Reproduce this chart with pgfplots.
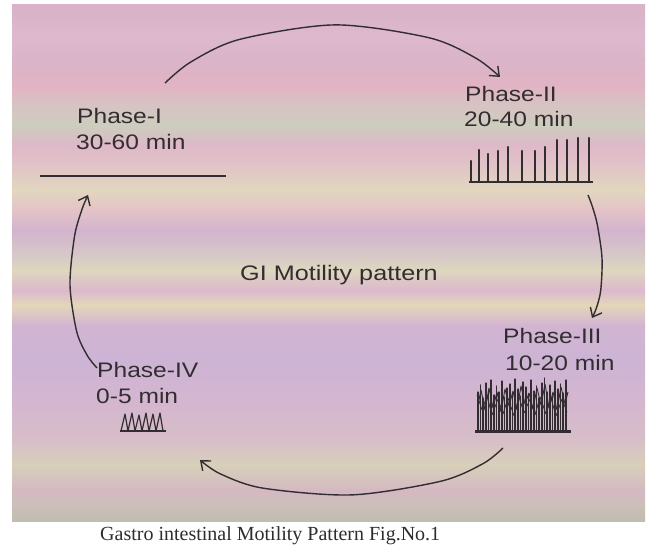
\documentclass[border=0pt]{standalone}
\usepackage{pgfplots}
\pgfplotsset{compat=1.18}
\usepackage{fontspec}
\setmainfont{Liberation Sans}
\newfontfamily\capfont{Liberation Serif}
\usetikzlibrary{arrows.meta}
\definecolor{b0}{RGB}{215,178,200}
\definecolor{b1}{RGB}{222,185,205}
\definecolor{b2}{RGB}{218,180,200}
\definecolor{b3}{RGB}{225,180,195}
\definecolor{b4}{RGB}{215,195,195}
\definecolor{b5}{RGB}{205,205,190}
\definecolor{b6}{RGB}{222,185,200}
\definecolor{b7}{RGB}{225,195,200}
\definecolor{b8}{RGB}{225,215,190}
\definecolor{b9}{RGB}{228,195,200}
\definecolor{b10}{RGB}{210,180,205}
\definecolor{b11}{RGB}{215,200,200}
\definecolor{b12}{RGB}{222,215,190}
\definecolor{b13}{RGB}{220,185,205}
\definecolor{b14}{RGB}{228,215,185}
\definecolor{b15}{RGB}{210,180,210}
\definecolor{b16}{RGB}{205,180,212}
\definecolor{b17}{RGB}{212,182,208}
\definecolor{b18}{RGB}{215,190,200}
\definecolor{b19}{RGB}{215,208,185}
\definecolor{b20}{RGB}{212,185,195}
\definecolor{b21}{RGB}{205,190,185}
\definecolor{b22}{RGB}{190,190,175}
\definecolor{ink}{RGB}{50,45,48}
\begin{document}
\begin{tikzpicture}
\begin{axis}[x=1bp, y=1bp, y dir=reverse, xmin=0, xmax=647, ymin=0, ymax=548,
  hide axis, clip=false, scale only axis]
% page and panel background
\fill[white] (0,0) rectangle (647,548);
\shade[top color=b0, bottom color=b1] (12,5) rectangle (645,35.5);
\shade[top color=b1, bottom color=b2] (12,35) rectangle (645,60.5);
\shade[top color=b2, bottom color=b3] (12,60) rectangle (645,85.5);
\shade[top color=b3, bottom color=b4] (12,85) rectangle (645,105.5);
\shade[top color=b4, bottom color=b5] (12,105) rectangle (645,125.5);
\shade[top color=b5, bottom color=b6] (12,125) rectangle (645,145.5);
\shade[top color=b6, bottom color=b7] (12,145) rectangle (645,165.5);
\shade[top color=b7, bottom color=b8] (12,165) rectangle (645,190.5);
\shade[top color=b8, bottom color=b9] (12,190) rectangle (645,210.5);
\shade[top color=b9, bottom color=b10] (12,210) rectangle (645,230.5);
\shade[top color=b10, bottom color=b11] (12,230) rectangle (645,255.5);
\shade[top color=b11, bottom color=b12] (12,255) rectangle (645,270.5);
\shade[top color=b12, bottom color=b13] (12,270) rectangle (645,290.5);
\shade[top color=b13, bottom color=b14] (12,290) rectangle (645,305.5);
\shade[top color=b14, bottom color=b15] (12,305) rectangle (645,325.5);
\shade[top color=b15, bottom color=b16] (12,325) rectangle (645,360.5);
\shade[top color=b16, bottom color=b17] (12,360) rectangle (645,400.5);
\shade[top color=b17, bottom color=b18] (12,400) rectangle (645,440.5);
\shade[top color=b18, bottom color=b19] (12,440) rectangle (645,465.5);
\shade[top color=b19, bottom color=b20] (12,465) rectangle (645,490.5);
\shade[top color=b20, bottom color=b21] (12,490) rectangle (645,505.5);
\shade[top color=b21, bottom color=b22] (12,505) rectangle (645,521);

% arrows of the cycle
\addplot[smooth, no marks, draw=ink, line width=1.4bp, -{Straight Barb[length=8bp,width=13bp]}]
  coordinates {(165,83) (190.8,62.0) (239.4,39.45) (335.1,24.9) (429.5,37.86) (476.1,58.3) (500,77)};
\addplot[smooth, no marks, draw=ink, line width=1.4bp, -{Straight Barb[length=8bp,width=13bp]}]
  coordinates {(588,195) (592.2,206.1) (597.3,224.6) (602.0,258.0) (600.7,290.6) (596.4,308.0) (592,318)};
\addplot[smooth, no marks, draw=ink, line width=1.4bp, -{Straight Barb[length=8bp,width=13bp]}]
  coordinates {(503,448) (483.1,463.6) (440.9,481.2) (351.9,494.9) (262.7,488.1) (220.2,473.8) (200,460)};
\addplot[smooth, no marks, draw=ink, line width=1.4bp, -{Straight Barb[length=8bp,width=13bp]}]
  coordinates {(97,368) (87.1,355.2) (76.7,331.6) (70.0,284.9) (74.5,236.5) (81.7,210.2) (88,195)};

% Phase I: flat line
\addplot[no marks, draw=ink, line width=1.4bp] coordinates {(40,176) (226,176)};

% Phase II: regular spikes
\addplot[no marks, draw=ink, line width=2.2bp, line join=round] coordinates {
 (469,182) (471,182) (471,161) (471,182) (478.7,182) (478.7,150) (478.7,182)
 (487.7,182) (487.7,154) (487.7,182) (497.7,182) (497.7,151) (497.7,182)
 (508,182) (508,147) (508,182) (522.3,182) (522.3,151) (522.3,182)
 (534.7,182) (534.7,151) (534.7,182) (545.3,182) (545.3,147) (545.3,182)
 (557,182) (557,140) (557,182) (567.3,182) (567.3,140) (567.3,182)
 (578.3,182) (578.3,138) (578.3,182) (588.7,182) (588.7,138) (588.7,182) (593,182)};

% Phase III: dense irregular spikes
\addplot[no marks, draw=ink, line width=1.1bp, line join=round] coordinates {
 (475,432) (478,432) (478,392) (478,432) (480.5,432) (480.5,385) (480.5,432)
 (483,432) (483,398) (483,432) (486,432) (486,383) (486,432)
 (488.5,432) (488.5,390) (488.5,432) (491,432) (491,380) (491,432)
 (494,432) (494,395) (494,432) (496.5,432) (496.5,386) (496.5,432)
 (499,432) (499,392) (499,432) (502,432) (502,381) (502,432)
 (504.5,432) (504.5,397) (504.5,432) (507,432) (507,388) (507,432)
 (510,432) (510,384) (510,432) (512.5,432) (512.5,393) (512.5,432)
 (515,432) (515,379) (515,432) (518,432) (518,389) (518,432)
 (520.5,432) (520.5,396) (520.5,432) (523,432) (523,382) (523,432)
 (526,432) (526,387) (526,432) (528.5,432) (528.5,394) (528.5,432)
 (531,432) (531,380) (531,432) (534,432) (534,391) (534,432)
 (536.5,432) (536.5,386) (536.5,432) (539,432) (539,398) (539,432)
 (542,432) (542,383) (542,432) (544.5,432) (544.5,378) (544.5,432)
 (547,432) (547,392) (547,432) (550,432) (550,385) (550,432)
 (552.5,432) (552.5,396) (552.5,432) (555,432) (555,381) (555,432)
 (558,432) (558,389) (558,432) (560.5,432) (560.5,384) (560.5,432)
 (563,432) (563,393) (563,432) (566,432) (566,380) (566,432) (571,432)};
\addplot[no marks, draw=ink, line width=0.9bp, line join=round] coordinates {
 (478,405) (481,390) (485,410) (489,388) (493,408) (497,392) (501,412) (505,389)
 (509,406) (513,391) (517,410) (521,386) (525,404) (529,393) (533,409) (537,388)
 (541,405) (545,384) (549,408) (553,392) (557,410) (561,387) (565,404) (568,392)};
\addplot[no marks, draw=ink, line width=0.8bp, line join=round] coordinates {
 (477,395) (482,410) (487,396) (492,415) (498,399) (503,414) (508,398) (514,416)
 (519,397) (524,413) (530,399) (535,415) (540,397) (546,414) (551,398) (556,416)
 (562,399) (567,412)};
\addplot[no marks, draw=ink, line width=2.2bp] coordinates {(475,431) (571,431)};

% Phase IV: sawtooth
\addplot[no marks, draw=ink, line width=1.2bp, line join=round] coordinates {
 (121,431) (125,414) (128,431) (132,413) (135,431) (139,415) (142,431) (146,413)
 (149,431) (153,414) (156,431) (160,413) (163,431)};
\addplot[no marks, draw=ink, line width=1.6bp] coordinates {(120,431) (166,431)};

% labels
\node[anchor=base west, inner sep=0, xscale=1.17, text=ink, font=\fontsize{21bp}{25bp}\selectfont] at (77,124) {Phase-I};
\node[anchor=base west, inner sep=0, xscale=1.17, text=ink, font=\fontsize{21bp}{25bp}\selectfont] at (76,150) {30-60 min};
\node[anchor=base west, inner sep=0, xscale=1.17, text=ink, font=\fontsize{21bp}{25bp}\selectfont] at (465,102) {Phase-II};
\node[anchor=base west, inner sep=0, xscale=1.17, text=ink, font=\fontsize{21bp}{25bp}\selectfont] at (464,127) {20-40 min};
\node[anchor=base west, inner sep=0, xscale=1.17, text=ink, font=\fontsize{21bp}{25bp}\selectfont] at (503,343) {Phase-III};
\node[anchor=base west, inner sep=0, xscale=1.17, text=ink, font=\fontsize{21bp}{25bp}\selectfont] at (505,370) {10-20 min};
\node[anchor=base west, inner sep=0, xscale=1.17, text=ink, font=\fontsize{21bp}{25bp}\selectfont] at (97,377) {Phase-IV};
\node[anchor=base west, inner sep=0, xscale=1.17, text=ink, font=\fontsize{21bp}{25bp}\selectfont] at (96,403) {0-5 min};
\node[anchor=base west, inner sep=0, xscale=1.2, text=ink, font=\fontsize{21bp}{25bp}\selectfont] at (240,280) {GI Motility pattern};
\node[anchor=base west, inner sep=0, text={rgb,255:red,45;green,45;blue,45}, font=\capfont\fontsize{20bp}{24bp}\selectfont] at (100,540) {Gastro intestinal Motility Pattern Fig.No.1};
\end{axis}
\end{tikzpicture}
\end{document}
